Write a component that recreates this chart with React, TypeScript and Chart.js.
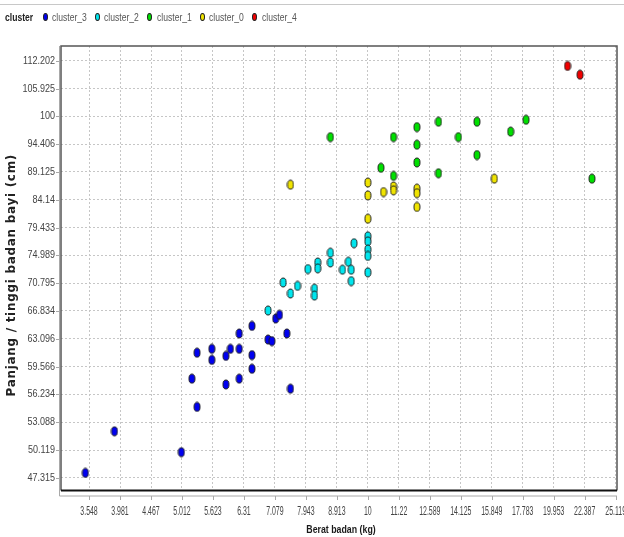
import React, { useEffect, useRef } from 'react';
import { Chart, registerables } from 'chart.js';

Chart.register(...registerables);

// ---- tick values (log axes) ----
const xTicks = [3.548, 3.981, 4.467, 5.012, 5.623, 6.31, 7.079, 7.943, 8.913, 10, 11.22, 12.589, 14.125, 15.849, 17.783, 19.953, 22.387, 25.119];
const yTicks = [47.315, 50.119, 53.088, 56.234, 59.566, 63.096, 66.834, 70.795, 74.989, 79.433, 84.14, 89.125, 94.406, 100, 105.925, 112.202];

// ---- data: weight (kg) / length (cm) per cluster ----
const cluster3Weight = [3.5, 3.9, 5.0, 5.3, 5.2, 5.3, 5.6, 5.6, 5.9, 6.0, 6.2, 6.2, 6.5, 6.5, 6.5, 6.2, 5.9, 6.9, 7.0, 7.1, 7.2, 7.4, 7.5];
const cluster3Length = [47.8, 52.1, 49.9, 54.8, 58.1, 61.3, 61.8, 60.4, 60.9, 61.8, 61.8, 63.8, 64.8, 61.0, 59.3, 58.1, 57.4, 63.0, 62.8, 65.8, 66.3, 63.8, 56.9];

const cluster2Weight = [6.9, 7.3, 7.5, 7.7, 8.0, 8.3, 8.3, 8.2, 8.2, 8.7, 8.7, 9.1, 9.3, 9.4, 9.4, 9.5, 10, 10, 10, 10, 10];
const cluster2Length = [66.9, 70.9, 69.3, 70.4, 72.9, 73.9, 73.0, 70.0, 69.0, 75.4, 73.9, 72.8, 74.0, 72.8, 71.1, 76.9, 78.0, 77.2, 75.9, 74.9, 72.4];

const cluster1Weight = [8.7, 10.5, 11, 11, 12, 12, 12, 13, 13, 14, 15, 15, 17, 18, 23];
const cluster1Length = [95.8, 89.9, 88.4, 95.8, 97.8, 94.3, 90.9, 98.9, 88.9, 95.8, 98.9, 92.3, 96.9, 99.3, 87.9];

const cluster0Weight = [7.5, 10, 10, 10, 10.6, 11, 11, 12, 12, 12, 16];
const cluster0Length = [86.8, 87.2, 84.9, 80.9, 85.5, 86.5, 85.8, 86.1, 85.3, 82.9, 87.9];

const cluster4Weight = [21, 22];
const cluster4Length = [111.0, 109.0];

const clusterNames = ['cluster_3', 'cluster_2', 'cluster_1', 'cluster_0', 'cluster_4'];
const clusterColors = ['#0000f0', '#00e6ee', '#00e000', '#f0e400', '#f00000'];
const clusterWeights = [cluster3Weight, cluster2Weight, cluster1Weight, cluster0Weight, cluster4Weight];
const clusterLengths = [cluster3Length, cluster2Length, cluster1Length, cluster0Length, cluster4Length];

const xTitle = 'Berat badan (kg)';
const yTitle = 'Panjang / tinggi badan bayi (cm)';

const SANS = "'Liberation Sans', Arial, sans-serif";

function makeDot(color: string): HTMLCanvasElement {
  const c = document.createElement('canvas');
  c.width = 8;
  c.height = 11;
  const g = c.getContext('2d')!;
  g.beginPath();
  g.ellipse(4, 5.5, 3, 4.5, 0, 0, Math.PI * 2);
  g.fillStyle = color;
  g.fill();
  g.lineWidth = 1;
  g.strokeStyle = '#1a1a1a';
  g.stroke();
  return c;
}

function squeezedText(ctx: any, text: string, x: number, y: number, sx: number) {
  ctx.save();
  ctx.translate(x, y);
  ctx.scale(sx, 1);
  ctx.fillText(text, 0, 0);
  ctx.restore();
}

const framePlugin = {
  id: 'frame',
  afterDraw(chart: any) {
    const { ctx, chartArea } = chart;
    const { left, right, top, bottom } = chartArea;
    const xs = chart.scales.x;
    const ys = chart.scales.y;
    ctx.save();
    // plot outline
    ctx.strokeStyle = '#555';
    ctx.lineWidth = 1.5;
    ctx.beginPath();
    ctx.moveTo(left, bottom);
    ctx.lineTo(left, top);
    ctx.lineTo(right, top);
    ctx.lineTo(right, bottom);
    ctx.stroke();
    ctx.strokeStyle = '#111';
    ctx.lineWidth = 2;
    ctx.beginPath();
    ctx.moveTo(left, bottom);
    ctx.lineTo(right, bottom);
    ctx.stroke();
    // offset axis lines
    ctx.strokeStyle = '#a8a8a8';
    ctx.lineWidth = 1;
    ctx.beginPath();
    ctx.moveTo(left - 1.5, top);
    ctx.lineTo(left - 1.5, bottom + 5.5);
    ctx.moveTo(left - 1.5, bottom + 5.5);
    ctx.lineTo(right, bottom + 5.5);
    // tick marks
    xTicks.forEach((v) => {
      const px = Math.round(xs.getPixelForValue(v)) + 0.5;
      ctx.moveTo(px, bottom + 5.5);
      ctx.lineTo(px, bottom + 9.5);
    });
    yTicks.forEach((v) => {
      const py = Math.round(ys.getPixelForValue(v)) + 0.5;
      ctx.moveTo(left - 1.5, py);
      ctx.lineTo(left - 5, py);
    });
    ctx.stroke();

    // tick labels (condensed, as in the original renderer)
    ctx.fillStyle = '#444';
    ctx.textBaseline = 'middle';
    ctx.textAlign = 'center';
    ctx.font = `12px ${SANS}`;
    xTicks.forEach((v) => {
      squeezedText(ctx, String(v), xs.getPixelForValue(v), bottom + 21, 0.58);
    });
    ctx.textAlign = 'right';
    ctx.font = `11px ${SANS}`;
    yTicks.forEach((v) => {
      squeezedText(ctx, String(v), left - 6, ys.getPixelForValue(v), 0.82);
    });

    // axis titles
    ctx.fillStyle = '#1a1a1a';
    ctx.textAlign = 'center';
    ctx.font = `bold 11px ${SANS}`;
    squeezedText(ctx, xTitle, (left + right) / 2 + 2, 530, 0.8);

    ctx.save();
    ctx.translate(12, (top + bottom) / 2 + 7);
    ctx.rotate(-Math.PI / 2);
    ctx.font = "bold 12px 'DejaVu Sans', sans-serif";
    try {
      (ctx as any).letterSpacing = '0.7px';
    } catch (e) {}
    ctx.fillStyle = '#222';
    ctx.textAlign = 'center';
    ctx.textBaseline = 'middle';
    ctx.fillText(yTitle, 0, 0);
    ctx.restore();

    ctx.restore();
  },
};

export default function App() {
  const canvasRef = useRef<HTMLCanvasElement | null>(null);

  useEffect(() => {
    const canvas = canvasRef.current;
    if (!canvas) return;
    const datasets = clusterNames.map((name, i) => {
      const dot = makeDot(clusterColors[i]);
      return {
        label: name,
        data: clusterWeights[i].map((w, j) => ({ x: w, y: clusterLengths[i][j] })),
        pointStyle: dot,
        pointRadius: 4,
        backgroundColor: clusterColors[i],
        borderColor: '#1a1a1a',
        showLine: false,
      };
    });

    const chart = new Chart(canvas, {
      type: 'scatter',
      data: { datasets },
      plugins: [framePlugin],
      options: {
        animation: false,
        responsive: false,
        events: [],
        layout: { padding: { top: 46, right: 7, left: 0, bottom: 0 } },
        plugins: {
          legend: { display: false },
          tooltip: { enabled: false },
        },
        scales: {
          x: {
            type: 'logarithmic',
            min: 3.197,
            max: 25.24,
            bounds: 'data',
            afterBuildTicks: (s: any) => {
              s.ticks = xTicks.map((v) => ({ value: v }));
            },
            afterFit: (s: any) => {
              s.height = 46.5;
              s.paddingLeft = 0;
              s.paddingRight = 0;
            },
            ticks: { display: false, autoSkip: false, maxRotation: 0, minRotation: 0 },
            grid: { color: '#c6c6c6', lineWidth: 1, drawTicks: false },
            border: { display: false, dash: [2, 2] },
            title: { display: false },
          },
          y: {
            type: 'logarithmic',
            min: 46.09,
            max: 115.68,
            bounds: 'data',
            afterBuildTicks: (s: any) => {
              s.ticks = yTicks.map((v) => ({ value: v }));
            },
            afterFit: (s: any) => {
              s.width = 61;
            },
            ticks: { display: false, autoSkip: false },
            grid: { color: '#c6c6c6', lineWidth: 1, drawTicks: false },
            border: { display: false, dash: [2, 2] },
            title: { display: false },
          },
        },
      } as any,
    });
    return () => chart.destroy();
  }, []);

  return (
    <div style={{ position: 'fixed', left: 0, top: 0, width: 624, height: 537, overflow: 'hidden', background: '#fff' }}>
      <canvas ref={canvasRef} width={624} height={537} style={{ position: 'absolute', left: 0, top: 0 }} />
      <div style={{ position: 'absolute', left: 0, top: 4, width: 624, height: 1, background: '#c8c8c8' }} />
      <span
        style={{
          position: 'absolute',
          left: 5,
          top: 11,
          font: `bold 11px ${SANS}`,
          color: '#222',
          whiteSpace: 'nowrap',
          transform: 'scaleX(0.78)',
          transformOrigin: 'left center',
        }}
      >
        cluster
      </span>
      {clusterNames.map((name, i) => (
        <React.Fragment key={name}>
          <span
            style={{
              position: 'absolute',
              left: 42.5 + i * 52.4,
              top: 13,
              width: 5,
              height: 8,
              borderRadius: '50%',
              background: clusterColors[i],
              border: '1px solid #222',
              boxSizing: 'border-box',
            }}
          />
          <span
            style={{
              position: 'absolute',
              left: 52 + i * 52.4,
              top: 11,
              font: `11px ${SANS}`,
              color: '#555',
              whiteSpace: 'nowrap',
              transform: 'scaleX(0.78)',
              transformOrigin: 'left center',
            }}
          >
            {name}
          </span>
        </React.Fragment>
      ))}
    </div>
  );
}
